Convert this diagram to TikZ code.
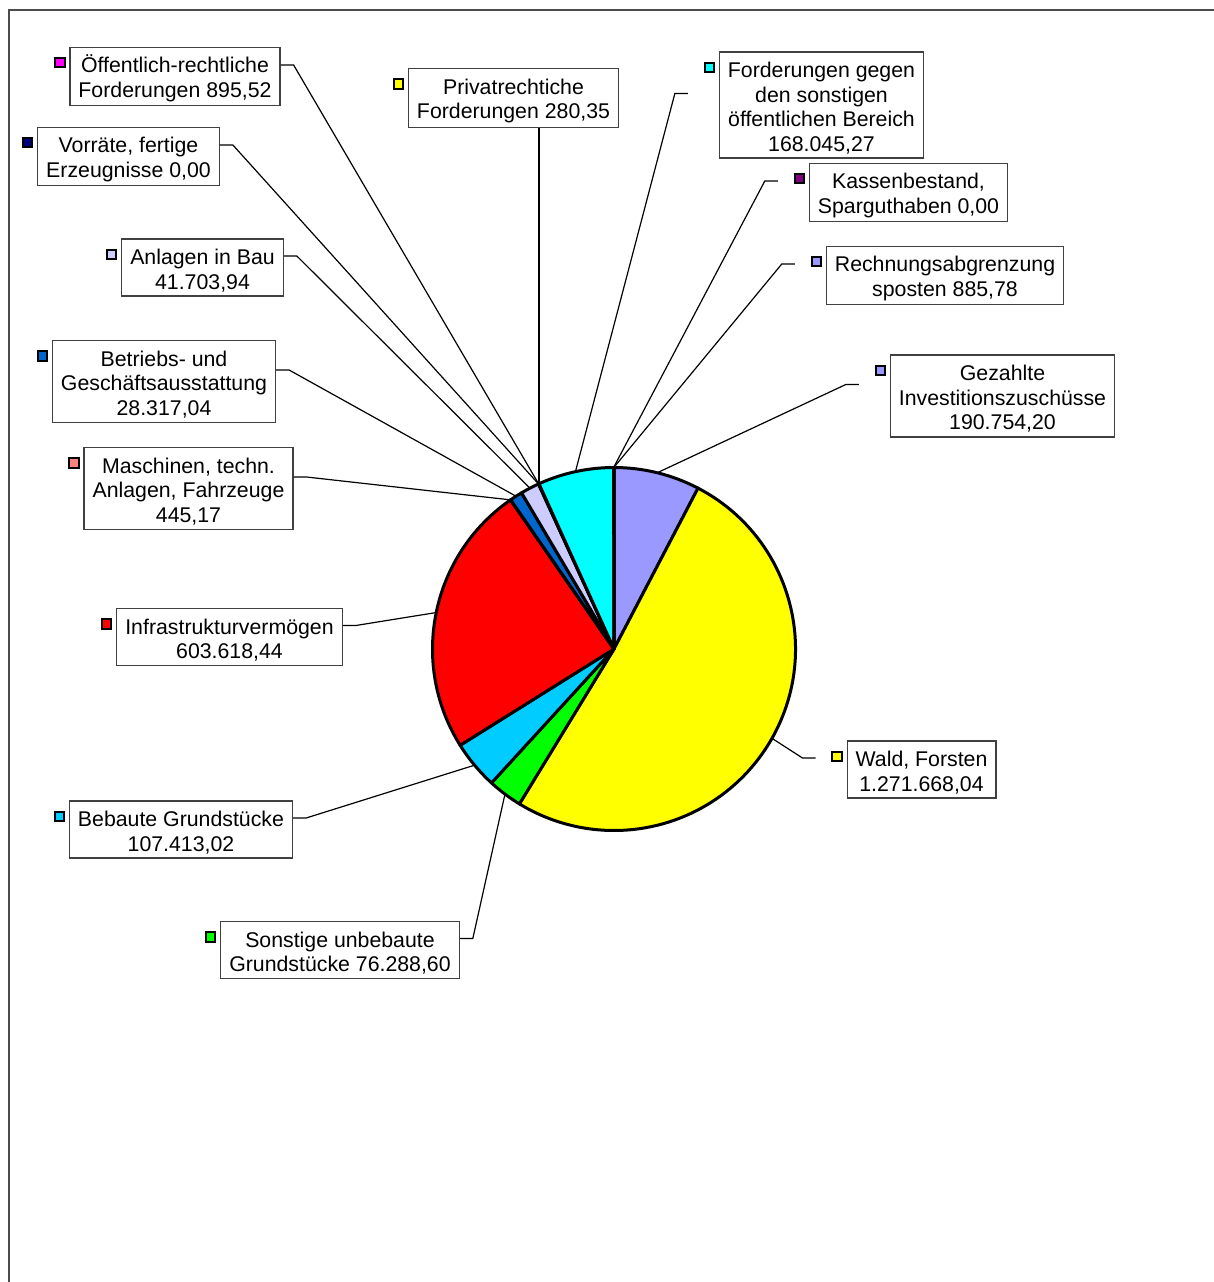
\documentclass[tikz,border=0pt]{standalone}
\usepackage{fontspec}
\setmainfont{Liberation Sans}
\usetikzlibrary{calc}

\definecolor{cLavanda}{HTML}{9999FF}
\definecolor{cAmarelo}{HTML}{FFFF00}
\definecolor{cVerde}{HTML}{00FF00}
\definecolor{cCeleste}{HTML}{00CCFF}
\definecolor{cVermelho}{HTML}{FF0000}
\definecolor{cSalmao}{HTML}{FF8080}
\definecolor{cAzul}{HTML}{0066CC}
\definecolor{cLilas}{HTML}{CCCCFF}
\definecolor{cMarinho}{HTML}{000080}
\definecolor{cMagenta}{HTML}{FF00FF}
\definecolor{cCiano}{HTML}{00FFFF}
\definecolor{cRoxo}{HTML}{800080}

\newcommand{\rotalto}{\rule{0pt}{21.5pt}}	% altura da primeira linha

\begin{document}
\begin{tikzpicture}[x=1pt,y=-1pt,
	rotulo/.style={draw=black!75, line width=1.2, fill=white, align=center,
		inner xsep=8.5pt, inner ysep=4pt, font=\fontsize{21.3}{24.5}\selectfont},
	lin2/.style={minimum height=57},
	lin3/.style={minimum height=82},
	lin4/.style={minimum height=106},
	chave/.style={draw=black, line width=2, minimum size=9.5pt, inner sep=0pt},
	fatia/.style={draw=black, line width=3, line join=round},
	guia/.style={draw=black, line width=1.2}]
	\useasboundingbox (0,0) rectangle (1214,1282);
	\draw[gray!60!black, line width=2] (8.5,1282) -- (8.5,9.5) -- (1214,9.5);	% Moldura

	% Fatias (centro e raio)
	\coordinate (c) at (614,649);
	\filldraw[fatia, fill=cLavanda]  (c) -- ++(-90:181.5)    arc[start angle=-90,    end angle=-62.42, radius=181.5] -- cycle;
	\filldraw[fatia, fill=cAmarelo]  (c) -- ++(-62.42:181.5) arc[start angle=-62.42, end angle=121.41, radius=181.5] -- cycle;
	\filldraw[fatia, fill=cVerde]    (c) -- ++(121.41:181.5) arc[start angle=121.41, end angle=132.44, radius=181.5] -- cycle;
	\filldraw[fatia, fill=cCeleste]  (c) -- ++(132.44:181.5) arc[start angle=132.44, end angle=147.96, radius=181.5] -- cycle;
	\filldraw[fatia, fill=cVermelho] (c) -- ++(147.96:181.5) arc[start angle=147.96, end angle=235.22, radius=181.5] -- cycle;
	\filldraw[fatia, fill=cSalmao]   (c) -- ++(235.22:181.5) arc[start angle=235.22, end angle=235.29, radius=181.5] -- cycle;
	\filldraw[fatia, fill=cAzul]     (c) -- ++(235.29:181.5) arc[start angle=235.29, end angle=239.38, radius=181.5] -- cycle;
	\filldraw[fatia, fill=cLilas]    (c) -- ++(239.38:181.5) arc[start angle=239.38, end angle=245.41, radius=181.5] -- cycle;
	\filldraw[fatia, fill=cMagenta]  (c) -- ++(245.41:181.5) arc[start angle=245.41, end angle=245.54, radius=181.5] -- cycle;
	\filldraw[fatia, fill=cAmarelo]  (c) -- ++(245.54:181.5) arc[start angle=245.54, end angle=245.58, radius=181.5] -- cycle;
	\filldraw[fatia, fill=cCiano]    (c) -- ++(245.58:181.5) arc[start angle=245.58, end angle=269.87, radius=181.5] -- cycle;
	\filldraw[fatia, fill=cLavanda]  (c) -- ++(269.87:181.5) arc[start angle=269.87, end angle=270,    radius=181.5] -- cycle;

	% Pontos das linhas guia na borda
	\coordinate (p-gez)   at ($(c)+(-76.21:181.5)$);
	\coordinate (p-wald)  at ($(c)+(29.49:181.5)$);
	\coordinate (p-sonst) at ($(c)+(126.92:181.5)$);
	\coordinate (p-beb)   at ($(c)+(140.20:181.5)$);
	\coordinate (p-infra) at ($(c)+(191.59:181.5)$);
	\coordinate (p-masch) at ($(c)+(235.26:181.5)$);
	\coordinate (p-betr)  at ($(c)+(237.33:181.5)$);
	\coordinate (p-anl)   at ($(c)+(242.40:181.5)$);
	\coordinate (p-vorr)  at ($(c)+(245.41:181.5)$);
	\coordinate (p-oeff)  at ($(c)+(245.47:181.5)$);
	\coordinate (p-priv)  at ($(c)+(245.56:181.5)$);
	\coordinate (p-ford)  at ($(c)+(257.73:181.5)$);
	\coordinate (p-kass)  at ($(c)+(269.87:181.5)$);
	\coordinate (p-rech)  at ($(c)+(269.94:181.5)$);

	% Rótulos à esquerda
	\node[rotulo, lin2] (oeff)  at (175,76.5)  {\rotalto Öffentlich-rechtliche\\Forderungen 895,52};
	\node[rotulo, lin2] (vorr)  at (128.5,156.5) {\rotalto Vorräte, fertige\\Erzeugnisse 0,00};
	\node[rotulo, lin2] (anl)   at (202.5,267.5) {\rotalto Anlagen in Bau\\41.703,94};
	\node[rotulo, lin3] (betr)  at (164,381.5) {\rotalto Betriebs- und\\Geschäftsausstattung\\28.317,04};
	\node[rotulo, lin3] (masch) at (188.5,488.5) {\rotalto Maschinen, techn.\\Anlagen, Fahrzeuge\\445,17};
	\node[rotulo, lin2] (infra) at (229.5,637) {\rotalto Infrastrukturvermögen\\603.618,44};
	\node[rotulo, lin2] (beb)   at (181,829.5) {\rotalto Bebaute Grundstücke\\107.413,02};
	\node[rotulo, lin2] (sonst) at (340,950)   {\rotalto Sonstige unbebaute\\Grundstücke 76.288,60};
	% Rótulos à direita
	\node[rotulo, lin2] (priv)  at (513.5,98)  {\rotalto Privatrechtiche\\Forderungen 280,35};
	\node[rotulo, lin4] (ford)  at (821.5,105) {\rotalto Forderungen gegen\\den sonstigen\\öffentlichen Bereich\\168.045,27};
	\node[rotulo, lin2] (kass)  at (908.5,192.5) {\rotalto Kassenbestand,\\Sparguthaben 0,00};
	\node[rotulo, lin2] (rech)  at (945,275.5) {\rotalto Rechnungsabgrenzung\\sposten 885,78};
	\node[rotulo, lin3] (gez)   at (1002.5,396) {\rotalto Gezahlte\\Investitionszuschüsse\\190.754,20};
	\node[rotulo, lin2] (wald)  at (921.5,769.5) {\rotalto Wald, Forsten\\1.271.668,04};

	% Chaves da legenda
	\foreach \r/\cor in {oeff/cMagenta, vorr/cMarinho, anl/cLilas, betr/cAzul, masch/cSalmao,
		infra/cVermelho, beb/cCeleste, sonst/cVerde, priv/cAmarelo, ford/cCiano,
		kass/cRoxo, rech/cLavanda, gez/cLavanda, wald/cAmarelo}
		\node[chave, fill=\cor] (\r-k) at ([xshift=-9.5pt,yshift=-16pt]\r.north west) {};

	% Linhas guia
	\foreach \r in {oeff, vorr, anl, betr, masch, infra, beb, sonst}
		\draw[guia] ([yshift=11.5pt]\r.east) -- ++(13,0) -- (p-\r);
	\foreach \r in {ford, kass, rech, gez, wald}
		\draw[guia] ([xshift=-31pt,yshift=11.5pt]\r.west) -- ++(-13,0) -- (p-\r);
	\draw[guia] (priv.south -| p-priv) -- (p-priv);
\end{tikzpicture}
\end{document}
